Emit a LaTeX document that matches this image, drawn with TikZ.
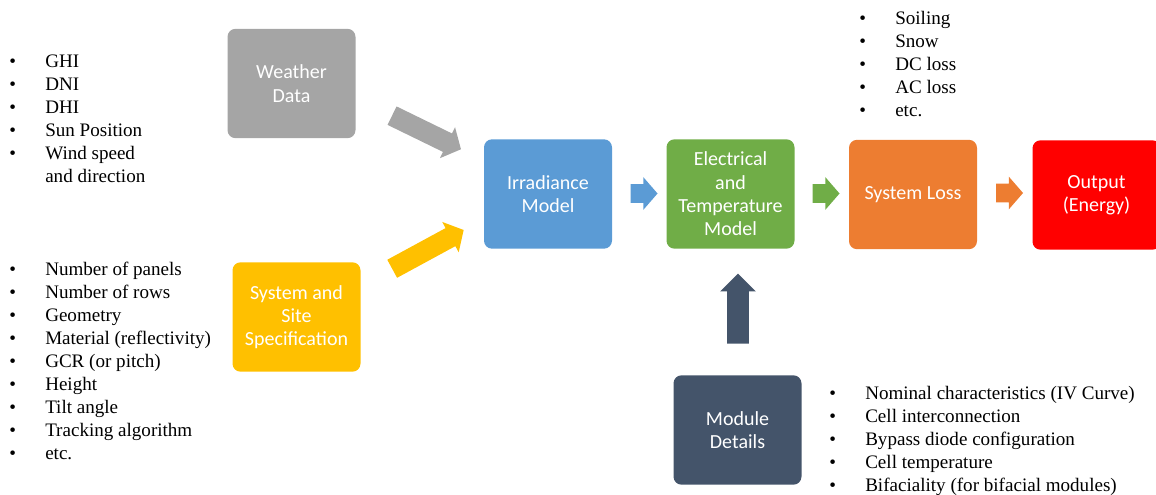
\documentclass[tikz,border=0pt]{standalone}
\usepackage{fontspec}
\usepackage{tikz}
\usepackage{xcolor}
\usetikzlibrary{shapes.arrows}
\setmainfont{Liberation Serif}
\newfontfamily\calibrifont{Carlito}
\definecolor{wgray}{HTML}{A5A5A5}
\definecolor{iblue}{HTML}{5B9BD5}
\definecolor{egreen}{HTML}{70AD47}
\definecolor{lorange}{HTML}{ED7D31}
\definecolor{sysyellow}{HTML}{FFC000}
\definecolor{modslate}{HTML}{44546A}
\newcommand{\bl}{\textbullet}

\begin{document}
\begin{tikzpicture}[x=0.75pt, y=-0.75pt,
    box/.style={rounded corners=6pt, minimum width=96pt, minimum height=82pt,
      inner sep=2pt, align=center, text=white,
      font=\calibrifont\fontsize{15}{17.5}\selectfont},
    blockarrow/.style={single arrow, inner xsep=0pt, inner ysep=7.5pt,
      minimum width=0pt, single arrow head extend=5.25pt,
      single arrow tip angle=98, anchor=center},
    bulletlist/.style={anchor=north west, inner sep=0pt, align=left,
      font=\fontsize{14.3}{17.25}\selectfont}]
    \useasboundingbox (0,0) rectangle (1156,495);

    % boxes
    \node[box, fill=wgray] (weather) at (291.5,83.5) {Weather\\Data};
    \node[box, fill=sysyellow] (system) at (296.5,317) {System and\\Site\\Specification};
    \node[box, fill=iblue] (irradiance) at (548,194) {Irradiance\\Model};
    \node[box, fill=egreen] (electrical) at (730.5,194) {Electrical\\and\\Temperature\\Model};
    \node[box, fill=lorange] (loss) at (913,194.5) {System Loss};
    \node[box, fill=red] (output) at (1096.5,195) {Output\\(Energy)};
    \node[box, fill=modslate] (module) at (737.5,430) {Module\\Details};

    % block arrows
    \node[blockarrow, fill=wgray, minimum height=57.5pt, rotate=-26]
      (weatherarrow) at (422.5,130.5) {};
    \node[blockarrow, fill=sysyellow, minimum height=61pt, rotate=28.5]
      (systemarrow) at (424,251.5) {};
    \node[blockarrow, fill=iblue, minimum height=20.25pt, inner ysep=6.75pt]
      (irrarrow) at (640,193.5) {};
    \node[blockarrow, fill=egreen, minimum height=20.25pt, inner ysep=6.75pt]
      (elecarrow) at (822,193.5) {};
    \node[blockarrow, fill=lorange, minimum height=20.25pt, inner ysep=6.75pt]
      (lossarrow) at (1005.5,193) {};
    \node[blockarrow, fill=modslate, minimum height=52.5pt, inner ysep=7.9pt,
      single arrow tip angle=90, rotate=90]
      (modarrow) at (738,314) {};

    % bullet lists
    \node[bulletlist] (weatherlist) at (9,51) {%
      \begin{tabular}{@{}p{27pt}@{}l@{}}
        \bl & GHI\\ \bl & DNI\\ \bl & DHI\\ \bl & Sun Position\\
        \bl & Wind speed\\ & and direction
      \end{tabular}};
    \node[bulletlist] (systemlist) at (9,259) {%
      \begin{tabular}{@{}p{27pt}@{}l@{}}
        \bl & Number of panels\\ \bl & Number of rows\\ \bl & Geometry\\
        \bl & Material (reflectivity)\\ \bl & GCR (or pitch)\\ \bl & Height\\
        \bl & Tilt angle\\ \bl & Tracking algorithm\\ \bl & etc.
      \end{tabular}};
    \node[bulletlist] (losslist) at (859,8) {%
      \begin{tabular}{@{}p{27pt}@{}l@{}}
        \bl & Soiling\\ \bl & Snow\\ \bl & DC loss\\ \bl & AC loss\\ \bl & etc.
      \end{tabular}};
    \node[bulletlist] (modulelist) at (829,383) {%
      \begin{tabular}{@{}p{27pt}@{}l@{}}
        \bl & Nominal characteristics (IV Curve)\\ \bl & Cell interconnection\\
        \bl & Bypass diode configuration\\ \bl & Cell temperature\\
        \bl & Bifaciality (for bifacial modules)
      \end{tabular}};
\end{tikzpicture}
\end{document}
